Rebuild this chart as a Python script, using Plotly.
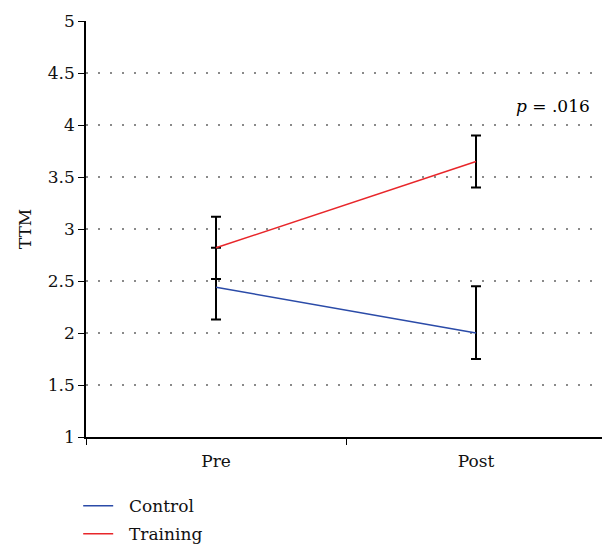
import plotly.graph_objects as go

categories = ["Pre", "Post"]
control_mean = [2.44, 2.00]
control_err_plus = [0.38, 0.45]
control_err_minus = [0.31, 0.25]
training_mean = [2.82, 3.65]
training_err = [0.30, 0.25]
y_ticks = [1, 1.5, 2, 2.5, 3, 3.5, 4, 4.5, 5]
y_ticklabels = ["1", "1.5", "2", "2.5", "3", "3.5", "4", "4.5", "5"]

FONT = "DejaVu Serif"

fig = go.Figure()
fig.add_trace(go.Scatter(
    x=categories, y=control_mean, mode="lines", name="&nbsp;&nbsp;Control",
    legendgroup="control",
    line=dict(color="#2b4ba8", width=1.5),
    error_y=dict(type="data", symmetric=False, array=control_err_plus,
                 arrayminus=control_err_minus, color="black", thickness=2, width=5),
))
fig.add_trace(go.Scatter(
    x=categories, y=training_mean, mode="lines", name="&nbsp;&nbsp;Training",
    legendgroup="training",
    line=dict(color="#e8262a", width=1.5),
    error_y=dict(type="data", array=training_err, color="black", thickness=2, width=5),
))

fig.add_annotation(
    x=0.898, xref="paper", xanchor="center", y=4.18, yref="y",
    text="<i>p</i> = .016", showarrow=False,
    font=dict(family=FONT, size=17, color="black"),
)

# page body has an 8px margin, so the figure is 8px smaller than the window
fig.update_layout(
    width=602, height=538,
    margin=dict(l=78, r=4, t=13, b=109, autoexpand=False),
    paper_bgcolor="white", plot_bgcolor="white",
    font=dict(family=FONT, size=17, color="#111"),
    showlegend=True,
    legend=dict(x=-0.015, y=-0.123, xanchor="left", yanchor="top",
                font=dict(family=FONT, size=17), tracegroupgap=3,
                bgcolor="rgba(0,0,0,0)"),
    xaxis=dict(
        type="category", range=[-0.5, 1.5], showline=True, linecolor="black",
        linewidth=1.5, ticks="outside", tickson="boundaries", ticklen=6,
        tickcolor="black", showgrid=False, zeroline=False, automargin=False,
        tickfont=dict(family=FONT, size=17), ticklabelstandoff=8,
    ),
    yaxis=dict(
        range=[1, 5.002], tickvals=y_ticks, ticktext=y_ticklabels,
        showline=True, linecolor="black", linewidth=1.5, ticks="outside",
        ticklen=6, tickcolor="black", showgrid=True, gridcolor="#8a8a8a",
        griddash="2px,10px", gridwidth=2, zeroline=False, automargin=False,
        tickfont=dict(family=FONT, size=17),
        title=dict(text="TTM", font=dict(family=FONT, size=17), standoff=12),
    ),
)

fig.write_html("out.html")
